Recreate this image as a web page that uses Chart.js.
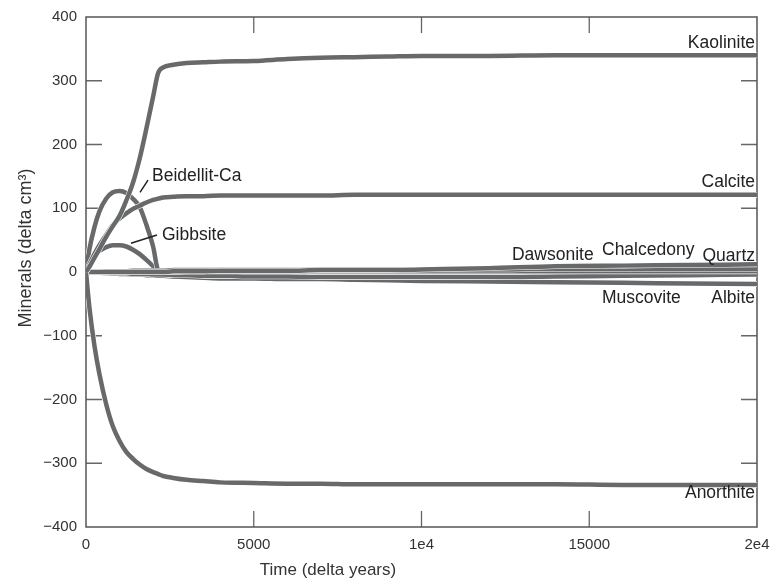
<!DOCTYPE html>
<html lang="en">
<head>
<meta charset="UTF-8">
<title>Minerals vs time</title>
<script src="https://cdn.jsdelivr.net/npm/chart.js@4.4.7/dist/chart.umd.min.js"></script>
<style>
*{margin:0;padding:0}
body{background:#fff;width:773px;height:581px;overflow:hidden}
canvas{display:block}
</style>
</head>
<body>
<canvas id="chart" width="773" height="581"></canvas>
<script>
// time grid (delta years), shared by every mineral
const years = [0,100,250,400,600,800,1000,1200,1400,1600,1800,2000,2150,2300,2600,3000,3500,4000,5000,6000,7000,8000,9000,10000,12000,14000,16000,18000,20000];

// delta cm3 per mineral
const kaolinite  = [0,8,22,36,55,72,88,112,140,178,225,275,312,321,325,328,329,330,331,334,336,337,338,339,339,340,340,340,340];
const calcite    = [0,12,28,42,58,74,84,92,99,104,109,113,115,117,118,119,119,120,120,120,120,121,121,121,121,121,121,121,121];
const beidellit  = [0,35,70,95,115,125,127,124,115,102,74,40,3,0,0,0,0,0,0,0,0,0,0,0,0,0,0,0,0];
const gibbsite   = [0,12,25,33,39,42,42,40,35,28,19,9,1,0,0,0,0,0,0,0,0,0,0,0,0,0,0,0,0];
const anorthite  = [0,-55,-115,-160,-207,-242,-265,-282,-293,-302,-309,-314,-317,-320,-323,-326,-328,-330,-331,-332,-332,-333,-333,-333,-333,-333,-334,-334,-334];
const quartz     = [0,0,0,0,0,0,0,0,0,0,0,0,0,0,1,1,1,2,2,2,3,3,3,4,6,9,10,11,12];
const chalcedony = [0,0,0,0,1,1,1,1,2,2,2,2,2,2,3,3,3,3,3,3,4,4,4,4,4,5,5,5,5];
const dawsonite  = [0,0,0,0,0,0,0,0,0,0,0,0,0,0,0,1,1,1,1,1,1,1,1,1,1,1,1,1,1];
const muscovite  = [0,0,-1,-1,-1,-2,-2,-2,-3,-3,-3,-4,-4,-4,-5,-5,-6,-6,-7,-7,-8,-8,-8,-8,-8,-7,-6,-5,-4];
const albite     = [0,0,-1,-1,-2,-2,-3,-3,-4,-4,-5,-5,-6,-6,-7,-8,-9,-10,-10,-11,-11,-12,-13,-14,-15,-16,-17,-18,-19];

// listed top-most first
const seriesNames = ['Kaolinite','Calcite','Anorthite','Quartz','Chalcedony','Dawsonite','Muscovite','Albite','Beidellit-Ca','Gibbsite'];
const seriesValues = [kaolinite,calcite,anorthite,quartz,chalcedony,dawsonite,muscovite,albite,beidellit,gibbsite];

const xTickLabels = ['0','5000','1e4','15000','2e4'];

// curve labels, anchored in data units [text, years, value, align]
const curveLabels = [
  ['Kaolinite', 20000, 351, 'right'],
  ['Calcite', 20000, 133, 'right'],
  ['Beidellit-Ca', 1967, 143, 'left'],
  ['Gibbsite', 2265, 50, 'left'],
  ['Dawsonite', 12697, 19, 'left'],
  ['Chalcedony', 15380, 27, 'left'],
  ['Quartz', 20000, 17, 'right'],
  ['Muscovite', 15380, -49, 'left'],
  ['Albite', 20000, -49, 'right'],
  ['Anorthite', 20000, -355, 'right'],
];
// leader lines [x1, y1, x2, y2] in data units
const leaders = [
  [1848, 144, 1610, 125],
  [2116, 58, 1341, 45],
];

const lineGray = '#67696b';
const FONT = "'Liberation Sans', Arial, Helvetica, sans-serif";

Chart.defaults.font.family = FONT;
Chart.defaults.font.size = 15;
Chart.defaults.color = '#333';

// each curve gets a thin white halo drawn just beneath it
const datasets = [];
seriesValues.forEach((vals, i) => {
  const pts = years.map((t, k) => ({x: t, y: vals[k]}));
  datasets.push({
    label: seriesNames[i], data: pts, borderColor: lineGray, borderWidth: 4.5,
    pointRadius: 0, cubicInterpolationMode: 'monotone', fill: false, order: 2 * i,
  });
  datasets.push({
    label: seriesNames[i] + ' halo', data: pts, borderColor: '#ffffff', borderWidth: 5.6,
    pointRadius: 0, cubicInterpolationMode: 'monotone', fill: false, order: 2 * i + 1,
  });
});

const frame = {
  id: 'frame',
  beforeDatasetsDraw(chart) {
    const {ctx, chartArea: a, scales: {x, y}} = chart;
    ctx.save();
    ctx.strokeStyle = '#666';
    ctx.lineWidth = 1.3;
    const len = 16;
    ctx.beginPath();
    [5000, 10000, 15000].forEach(v => {
      const px = x.getPixelForValue(v);
      ctx.moveTo(px, a.bottom); ctx.lineTo(px, a.bottom - len);
      ctx.moveTo(px, a.top); ctx.lineTo(px, a.top + len);
    });
    [-300, -200, -100, 100, 200, 300].forEach(v => {
      const py = y.getPixelForValue(v);
      ctx.moveTo(a.left, py); ctx.lineTo(a.left + len, py);
      ctx.moveTo(a.right, py); ctx.lineTo(a.right - len, py);
    });
    ctx.stroke();
    ctx.strokeStyle = '#555';
    ctx.lineWidth = 1.5;
    ctx.strokeRect(a.left, a.top, a.right - a.left, a.bottom - a.top);
    ctx.restore();
  },
  afterDatasetsDraw(chart) {
    const {ctx, scales: {x, y}} = chart;
    ctx.save();
    ctx.fillStyle = '#222';
    ctx.font = '17.5px ' + FONT;
    ctx.textBaseline = 'alphabetic';
    curveLabels.forEach(([txt, t, v, align]) => {
      ctx.textAlign = align;
      let px = x.getPixelForValue(t);
      if (align === 'right') px -= 2;
      ctx.fillText(txt, px, y.getPixelForValue(v));
    });
    ctx.strokeStyle = '#222';
    ctx.lineWidth = 1.5;
    ctx.beginPath();
    leaders.forEach(([t1, v1, t2, v2]) => {
      ctx.moveTo(x.getPixelForValue(t1), y.getPixelForValue(v1));
      ctx.lineTo(x.getPixelForValue(t2), y.getPixelForValue(v2));
    });
    ctx.stroke();

    // axis titles
    ctx.fillStyle = '#333';
    ctx.font = '17px ' + FONT;
    ctx.textAlign = 'center';
    ctx.textBaseline = 'middle';
    ctx.fillText('Time (delta years)', 328, 570);
    ctx.translate(26, 248);
    ctx.rotate(-Math.PI / 2);
    ctx.font = '18px ' + FONT;
    ctx.fillText('Minerals (delta cm\u00b3)', 0, 0);
    ctx.restore();
  }
};

new Chart(document.getElementById('chart'), {
  type: 'line',
  data: {datasets},
  options: {
    responsive: false,
    animation: false,
    layout: {padding: {left: 0, right: 16, top: 17, bottom: 0}},
    plugins: {legend: {display: false}, tooltip: {enabled: false}},
    scales: {
      x: {
        type: 'linear', min: 0, max: 20000,
        ticks: {stepSize: 5000, padding: 9, maxRotation: 0, callback: (v, i) => xTickLabels[i]},
        grid: {display: false, drawTicks: false}, border: {display: false},
        afterFit(s) { s.height = 54; s.paddingLeft = 0; s.paddingRight = 0; },
      },
      y: {
        min: -400, max: 400,
        ticks: {stepSize: 100, padding: 9, callback: v => v < 0 ? '\u2212' + (-v) : String(v)},
        grid: {display: false, drawTicks: false}, border: {display: false},
        afterFit(s) { s.width = 86; s.paddingTop = 0; s.paddingBottom = 0; },
      },
    },
  },
  plugins: [frame],
});
</script>
</body>
</html>
